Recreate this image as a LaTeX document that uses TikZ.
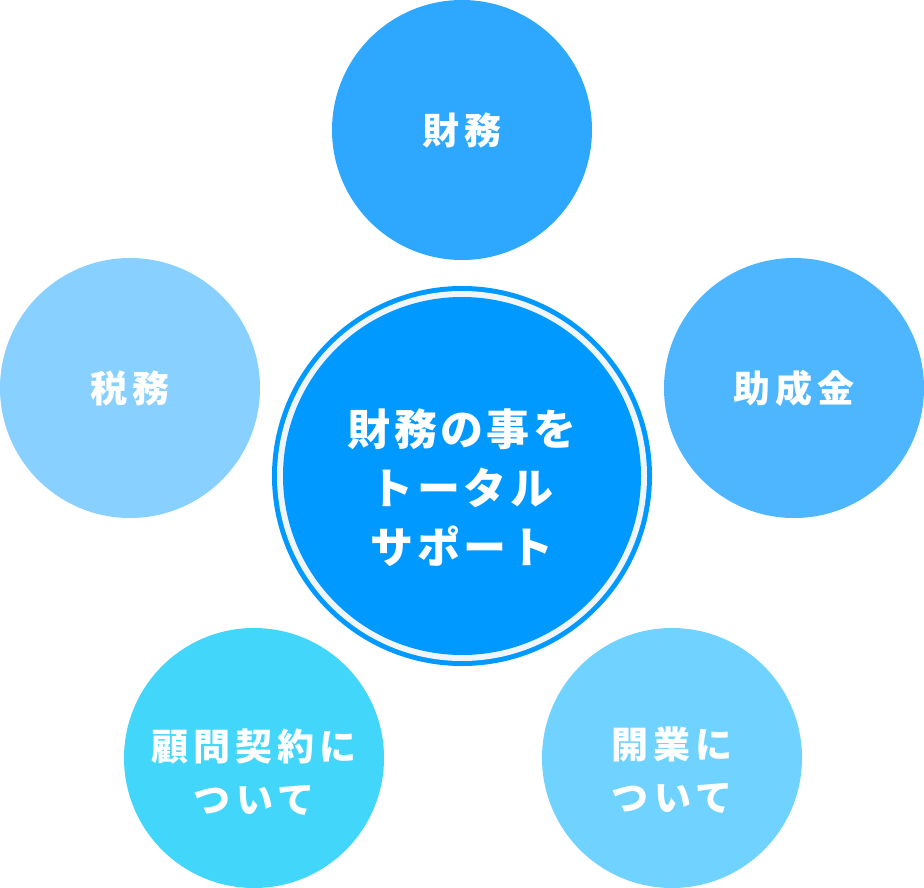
\documentclass[tikz,border=0pt]{standalone}
\usepackage{fontspec}
\setmainfont{Noto Sans CJK JP}
\newfontfamily\jpcore[LetterSpace=8]{Noto Sans CJK JP}
\newfontfamily\jptopic[LetterSpace=14]{Noto Sans CJK JP}
\usetikzlibrary{positioning}
\definecolor{coreblue}{HTML}{0099FF}
\definecolor{ringgap}{HTML}{F0F5FA}
\definecolor{zaimu}{HTML}{2EA8FF}
\definecolor{josei}{HTML}{4DB6FF}
\definecolor{zeimu}{HTML}{87D0FF}
\definecolor{komon}{HTML}{42D6FA}
\definecolor{kaigyo}{HTML}{70D3FF}
\begin{document}
\begin{tikzpicture}[x=1pt,y=-1pt,
topic/.style={circle,inner sep=0pt,minimum size=260pt,text=white,align=center,
  font=\jptopic\bfseries\fontsize{37}{53}\selectfont},
core/.style={circle,inner sep=0pt,text=white,align=center,
  font=\jpcore\bfseries\fontsize{43}{59}\selectfont}]
\useasboundingbox (0,0) rectangle (924,888);
% center circle with double ring
\node[core,fill=coreblue,minimum size=380pt] (ring) at (462,476) {};
\node[core,fill=ringgap,minimum size=370pt] (gap) at (ring.center) {};
\node[core,fill=coreblue,minimum size=358pt] (center) at (ring.center) {};
\node[core,yshift=-12pt] (centertext) at (center.center) {財務の事を\\トータル\\サポート};
% surrounding topics
\node[topic,fill=zaimu] (zaimu) at (462,130) {財務};
\node[topic,fill=zeimu] (zeimu) at (130,388) {税務};
\node[topic,fill=josei] (josei) at (794,388) {助成金};
\node[topic,fill=komon] (komon) at (254,758) {};
\node[topic,fill=kaigyo] (kaigyo) at (672,758) {};
\node[topic,yshift=-14pt] (komontext) at (komon.center) {顧問契約に\\ついて};
\node[topic,yshift=-12pt] (kaigyotext) at (kaigyo.center) {開業に\\ついて};
\end{tikzpicture}
\end{document}
